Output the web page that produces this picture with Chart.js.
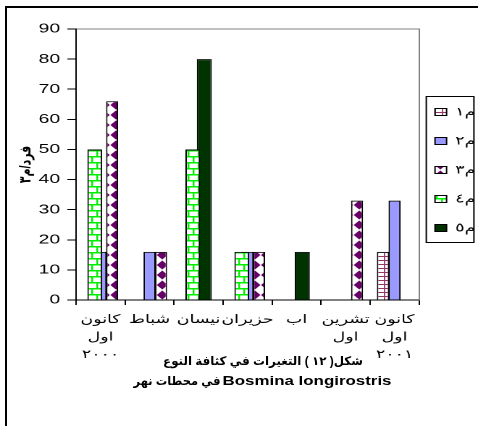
<!DOCTYPE html>
<html>
<head>
<meta charset="utf-8">
<script src="https://cdn.jsdelivr.net/npm/chart.js@4.4.1/dist/chart.umd.min.js"></script>
<style>
  html, body { margin: 0; padding: 0; background: #fff; width: 478px; height: 426px; overflow: hidden; }
  #frame { position: absolute; left: 5px; top: 6px; width: 480px; height: 430px;
           border-left: 2px solid #000; border-top: 2px solid #000; }
  /* the whole plot is drawn narrow and widened, like the printed page */
  #stage { position: absolute; left: 0; top: 0; width: 330px; height: 426px;
           transform: scaleX(1.4485); transform-origin: 0 0; }
  #plot { position: absolute; left: 0; top: 0; width: 330px; height: 426px; }
  .cap { position: absolute; white-space: nowrap; color: #000; font-weight: bold;
         font-family: Arial, "Liberation Sans", "DejaVu Sans", sans-serif; line-height: 1.2;
         transform: translate(-50%, -50%); }
  #cap1 { left: 263px; top: 361px; font-size: 12px; }
  #cap2a { left: 176.5px; top: 381px; font-size: 12px; }
  #cap2b { left: 306.5px; top: 381px; font-size: 12px; }
</style>
</head>
<body>
<div id="frame"></div>
<div id="stage">
  <div id="plot"><canvas id="chart"></canvas></div>
</div>
<div class="cap" id="cap1" dir="rtl" data-w="200">شكل( ١٢ ) التغيرات في كثافة النوع</div>
<div class="cap" id="cap2a" dir="rtl" data-w="87">في محطات نهر</div>
<div class="cap" id="cap2b" data-w="169">Bosmina longirostris</div>
<script>
// Months sampled (multi-line labels are arrays)
const categories = [
  ["كانون", "اول", "٢٠٠٠"],
  "شباط",
  "نيسان",
  "حزيران",
  "اب",
  ["تشرين", "اول"],
  ["كانون", "اول", "٢٠٠١"]
];

// Stations
const seriesNames = ["م١", "م٢", "م٣", "م٤", "م٥"];

// Density (individuals / m3) per station; null = none recorded
const station1 = [null, null, null, null, null, null, 16];
const station2 = [16, 16, null, 16, null, null, 33];
const station3 = [66, 16, null, 16, null, 33, null];
const station4 = [50, null, 50, 16, null, null, null];
const station5 = [null, null, 80, null, 16, null, null];

// Value axis
const yMin = 0;
const yMax = 90;
const yStep = 10;
const yTitle = "فرد/م٣";

const FONT = 'Arial, "Liberation Sans", "DejaVu Sans", sans-serif';
Chart.defaults.font.family = FONT;
Chart.defaults.color = '#000';

// Caption pieces are squeezed to their set widths
document.querySelectorAll('.cap').forEach(el => {
  const natural = el.getBoundingClientRect().width;
  const k = Number(el.dataset.w) / natural;
  el.style.transform = 'translate(-50%, -50%) scaleX(' + k + ')';
});

// Hatch fills drawn on small tiles
function tilePattern(w, h, paint) {
  const k = 4;
  const c = document.createElement('canvas');
  c.width = Math.round(w * k);
  c.height = Math.round(h * k);
  const g = c.getContext('2d');
  g.scale(k, k);
  g.fillStyle = '#fff';
  g.fillRect(0, 0, w, h);
  paint(g);
  const p = document.createElement('canvas').getContext('2d').createPattern(c, 'repeat');
  p.setTransform(new DOMMatrix().scale(1 / k));
  return p;
}

// small grid, maroon
const gridFill = tilePattern(5, 4, g => {
  g.fillStyle = '#993366';
  g.fillRect(0, 0, 5, 1);
  g.fillRect(0, 0, 0.9, 4);
});

// diamonds, purple
const diamondFill = tilePattern(8, 10, g => {
  g.fillStyle = '#660066';
  [0, 8].forEach(cx => {
    g.beginPath();
    g.moveTo(cx, 0.5);
    g.lineTo(cx + 3.8, 5);
    g.lineTo(cx, 9.5);
    g.lineTo(cx - 3.8, 5);
    g.closePath();
    g.fill();
  });
});

// brick, bright green
const brickFill = tilePattern(7, 12, g => {
  g.fillStyle = '#00ee00';
  g.fillRect(0, 0, 7, 1.5);
  g.fillRect(0, 6, 7, 1.5);
  g.fillRect(0, 0, 1.2, 6);
  g.fillRect(3.5, 6, 1.2, 6);
});

// Box round the legend entries
const legendFrame = {
  id: 'legendFrame',
  afterDraw(chart) {
    const lg = chart.legend;
    const hb = lg && lg.legendHitBoxes;
    if (!hb || !hb.length) return;
    const lab = lg.options.labels;
    const off = (lab.font.size - lab.boxHeight) / 2;
    const left = hb[0].left - 6;
    const right = Math.max(...hb.map(h => h.left + h.width)) - 1;
    const top = hb[0].top + off - 12;
    const bottom = hb[hb.length - 1].top + off + lab.boxHeight + 11;
    const ctx = chart.ctx;
    ctx.save();
    ctx.strokeStyle = '#000';
    ctx.lineWidth = 1;
    ctx.strokeRect(left, top, right - left, bottom - top);
    ctx.restore();
  }
};

const common = { borderColor: '#000', borderWidth: 1 };

new Chart(document.getElementById('chart'), {
  type: 'bar',
  data: {
    labels: categories,
    datasets: [
      { label: seriesNames[0], data: station1, backgroundColor: gridFill, order: 0, barPercentage: 2.14, ...common },
      { label: seriesNames[1], data: station2, backgroundColor: '#9999ff', order: 2, barPercentage: 2.1, ...common },
      { label: seriesNames[2], data: station3, backgroundColor: diamondFill, order: 4, barPercentage: 2.09, ...common },
      { label: seriesNames[3], data: station4, backgroundColor: brickFill, order: 1, barPercentage: 2.57, ...common },
      { label: seriesNames[4], data: station5, backgroundColor: '#003300', order: 3, barPercentage: 2.61, ...common }
    ]
  },
  options: {
    devicePixelRatio: 2,
    animation: false,
    responsive: true,
    maintainAspectRatio: false,
    layout: { padding: { top: 29, left: 0, right: 0, bottom: 0 } },
    datasets: { bar: { categoryPercentage: 0.587 } },
    scales: {
      x: {
        type: 'category',
        position: 'bottom',
        offset: true,
        grid: { display: true, drawOnChartArea: false, drawTicks: true, tickLength: 5, color: '#000', lineWidth: 1, offset: true },
        border: { display: true, color: '#000', width: 1 },
        ticks: { autoSkip: false, maxRotation: 0, padding: 6, color: '#000', font: { size: 12, lineHeight: 1.46 } },
        afterFit(s) { s.height = 126; }
      },
      x2: {
        type: 'category',
        position: 'top',
        display: true,
        grid: { display: false },
        ticks: { display: false },
        border: { display: true, color: '#808080', width: 1 },
        afterFit(s) { s.height = 0; }
      },
      y: {
        type: 'linear',
        position: 'left',
        min: yMin,
        max: yMax,
        grid: { drawOnChartArea: false, drawTicks: true, tickLength: 6, color: '#000', lineWidth: 1 },
        border: { display: true, color: '#000', width: 1 },
        ticks: { stepSize: yStep, padding: 5, color: '#000', font: { size: 13.33 } },
        title: { display: true, text: yTitle, color: '#000', font: { size: 11, weight: 'bold' }, padding: { top: 11.4, bottom: 0 } },
        afterFit(s) { s.width = 52.5; }
      },
      y2: {
        type: 'linear',
        position: 'right',
        display: true,
        grid: { display: false },
        ticks: { display: false },
        border: { display: true, color: '#808080', width: 1 },
        afterFit(s) { s.width = 6; }
      }
    },
    plugins: {
      tooltip: { enabled: false },
      title: { display: false },
      legend: {
        position: 'right',
        align: 'start',
        maxWidth: 34.7,
        title: { display: true, text: '', padding: { top: 60, bottom: 0 }, font: { size: 10 } },
        labels: {
          boxWidth: 8,
          boxHeight: 7,
          padding: 5,
          color: '#000',
          font: { size: 12, lineHeight: 2 },
          sort: (a, b) => a.datasetIndex - b.datasetIndex,
          generateLabels(chart) {
            return Chart.defaults.plugins.legend.labels.generateLabels(chart)
              .map(item => Object.assign(item, { text: [item.text] }));
          }
        }
      }
    }
  },
  plugins: [legendFrame]
});
</script>
</body>
</html>
